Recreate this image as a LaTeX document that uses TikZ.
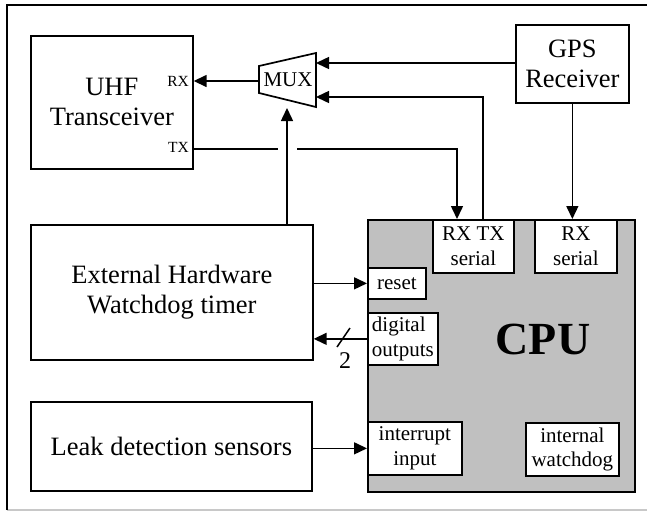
\documentclass[tikz,border=0pt]{standalone}
\usepackage{fontspec}
\setmainfont{Liberation Serif}
\usetikzlibrary{arrows.meta}
\definecolor{cpugray}{HTML}{C0C0C0}
\definecolor{framegray}{HTML}{C8C8C8}
\begin{document}
\begin{tikzpicture}[x=1pt,y=-1pt,
  box/.style={draw, line width=1.7pt, fill=white, inner sep=0pt, anchor=north west, align=center},
  big/.style={font=\fontsize{26.5}{30}\selectfont},
  small/.style={font=\fontsize{21}{24.5}\selectfont},
  tiny/.style={font=\fontsize{15.5}{16}\selectfont, inner sep=1pt},
  conn/.style={line width=1.5pt},
  arr/.style={conn, -{Triangle[length=13pt,width=12pt]}},
]
\useasboundingbox (0,0) rectangle (647,512);
% outer frame
\draw[framegray, line width=1.2pt] (7,510) -- (647,510);
\draw[line width=1.7pt] (7,510) -- (7,5) -- (647,5);

% blocks
\node[box, big, minimum width=162pt, minimum height=133pt] (uhf) at (30,35) {UHF\\Transceiver};
\node[tiny, anchor=east] (rxl) at (190,81) {RX};
\node[tiny, anchor=east] (txl) at (190,147) {TX};
\node[box, big, minimum width=113pt, minimum height=78pt] (gps) at (515,24) {GPS\\Receiver};
\node[box, big, minimum width=282pt, minimum height=135pt] (wd) at (30,224) {External Hardware\\Watchdog timer};
\node[box, big, minimum width=281pt, minimum height=89pt] (leak) at (30,401) {Leak detection sensors};

% CPU
\node[box, fill=cpugray, minimum width=267pt, minimum height=272pt] (cpu) at (367,219) {};
\node[font=\bfseries\fontsize{46}{46}\selectfont] (cpulabel) at (543,339) {CPU};
\node[box, small, minimum width=81pt, minimum height=53pt] (rxtx) at (432,219) {RX TX\\serial};
\node[box, small, minimum width=82pt, minimum height=53pt] (rxs) at (534,219) {RX\\serial};
\node[box, small, minimum width=58pt, minimum height=31pt] (reset) at (367,267) {reset};
\node[box, small, align=left, minimum width=70pt, minimum height=52pt] (digout) at (367,312) {digital\\outputs};
\node[box, small, minimum width=94pt, minimum height=53pt] (intin) at (367,421) {interrupt\\input};
\node[box, small, minimum width=93pt, minimum height=53pt] (intwd) at (525,422) {internal\\watchdog};

% MUX
\draw[line width=1.7pt, fill=white] (259,66) -- (316,53) -- (316,107) -- (259,93) -- cycle;
\node[small] (mux) at (288,80) {MUX};
\coordinate (muxL) at (259,81);
\coordinate (muxR1) at (316,63);
\coordinate (muxR2) at (316,97);
\coordinate (muxB) at (287,108);

% connectors
\draw[arr] (muxL) -- (uhf.east |- muxL);
\draw[arr] (gps.west |- muxR1) -- (muxR1);
\coordinate (gapL) at (278,149);
\coordinate (gapR) at (297,149);
\coordinate (txTurn) at (457,149);
\draw[conn] (uhf.east |- gapL) -- (gapL);
\draw[arr] (gapR) -- (txTurn) -- (txTurn |- rxtx.north);
\coordinate (upx) at (483,0);
\draw[arr] (rxtx.north -| upx) -- (upx |- muxR2) -- (muxR2);
\draw[arr] (gps.south) -- (gps.south |- rxs.north);
\draw[arr] (wd.north -| muxB) -- (muxB);
\draw[arr] (wd.east |- reset.west) -- (reset.west);
\draw[arr] (digout.west) -- (wd.east |- digout.west);
\coordinate (slA) at (337,347);
\coordinate (slB) at (350,328);
\draw[conn] (slA) -- (slB);
\node[font=\fontsize{24}{24}\selectfont] (two) at (345,361) {2};
\draw[arr] (leak.east |- intin.west) -- (intin.west);
\end{tikzpicture}
\end{document}
